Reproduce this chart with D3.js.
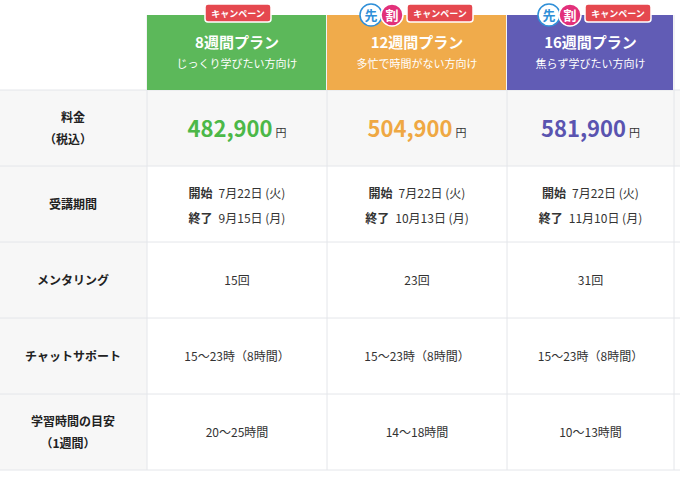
<!DOCTYPE html>
<html><head><meta charset="utf-8">
<script src="https://cdn.jsdelivr.net/npm/d3@7"></script>
<style>body{margin:0;background:#fff;font-family:"Noto Sans CJK JP",sans-serif}</style>
</head><body><svg id="chart" width="680" height="483"></svg>
<script>
// plan data
const plans = ["8週間プラン", "12週間プラン", "16週間プラン"];
const subtitles = ["じっくり学びたい方向け", "多忙で時間がない方向け", "焦らず学びたい方向け"];
const earlyBird = [false, true, true];
const prices = ["482,900", "504,900", "581,900"];
const starts = ["7月22日 (火)", "7月22日 (火)", "7月22日 (火)"];
const ends = ["9月15日 (月)", "10月13日 (月)", "11月10日 (月)"];
const mentoring = ["15回", "23回", "31回"];
const chat = ["15〜23時（8時間）", "15〜23時（8時間）", "15〜23時（8時間）"];
const study = ["20〜25時間", "14〜18時間", "10〜13時間"];
const rowLabels = [["料金", "（税込）"], ["受講期間"], ["メンタリング"], ["チャットサポート"], ["学習時間の目安", "（1週間）"]];
const colors = ["#5cb85a", "#f0ab4b", "#615cb5"];
const priceColors = ["#4cb848", "#efa843", "#5a54b0"];

const svg = d3.select("#chart");
const x = d3.scaleBand().domain(plans).range([147, 687]);
const cw = 180;
const widths = [180, 180, 167];
const headTop = 15, headBot = 90, rowH = 76;
const y = d3.scaleLinear().domain([0, rowLabels.length]).range([headBot, headBot + rowH * rowLabels.length]);

// backgrounds
svg.append("rect").attr("x", 0).attr("y", headBot).attr("width", 147).attr("height", rowH * 5).attr("fill", "#f7f7f7");
svg.append("rect").attr("x", 147).attr("y", y(0)).attr("width", 533).attr("height", rowH).attr("fill", "#f7f7f7");

// grid
d3.range(6).forEach(i => svg.append("line").attr("x1", 0).attr("x2", 680).attr("y1", y(i)).attr("y2", y(i)).attr("stroke", "#e4e6ea"));
[147, 327, 507, 674].forEach(v => svg.append("line").attr("x1", v).attr("x2", v).attr("y1", headTop).attr("y2", y(5)).attr("stroke", "#e4e6ea"));

// header
plans.forEach((p, i) => {
  const x0 = x(p), cx = x0 + widths[i] / 2;
  svg.append("rect").attr("x", x0).attr("y", headTop).attr("width", widths[i] - 1).attr("height", headBot - headTop).attr("fill", colors[i]);
  svg.append("text").attr("x", cx).attr("y", 48).attr("text-anchor", "middle").attr("fill", "#fff")
    .attr("font-size", 15).attr("font-weight", "bold").text(p);
  svg.append("text").attr("x", cx).attr("y", 68).attr("text-anchor", "middle").attr("fill", "#fff")
    .attr("font-size", 11).text(subtitles[i]);
  // campaign badge
  const bx = x0 + 58 + (earlyBird[i] ? 22 : 0) - (i === 2 ? 2 : 0);
  svg.append("rect").attr("x", bx).attr("y", 4).attr("width", 66).attr("height", 18).attr("rx", 3)
    .attr("fill", "#e5484f").attr("stroke", "#fff").attr("stroke-width", 1.5);
  svg.append("text").attr("x", bx + 33).attr("y", 17).attr("text-anchor", "middle").attr("fill", "#fff")
    .attr("font-size", 9).attr("font-weight", "bold").text("キャンペーン");
  if (earlyBird[i]) {
    [["先", "#fff", "#2f8fd8"], ["割", "#e2307a", "#fff"]].forEach((d, k) => {
      const ccx = x0 + 44 + k * 21 - (i === 2 ? 2 : 0);
      svg.append("circle").attr("cx", ccx).attr("cy", 15).attr("r", 11).attr("fill", d[1]).attr("stroke", k ? "#fff" : "#2f8fd8").attr("stroke-width", 1.5);
      svg.append("text").attr("x", ccx).attr("y", 20).attr("text-anchor", "middle").attr("fill", d[2])
        .attr("font-size", 13).attr("font-weight", "bold").text(d[0]);
    });
  }
});

// row labels
rowLabels.forEach((ls, r) => {
  const cy = y(r) + rowH / 2;
  ls.forEach((t, k) => svg.append("text").attr("x", t.startsWith("（") ? 68 : 73).attr("y", cy + 5 + (k - (ls.length - 1) / 2) * 22)
    .attr("text-anchor", "middle").attr("font-size", 12).attr("font-weight", "bold").attr("fill", "#222").text(t));
});

// cells
function cellText(r, i, t, dy) {
  return svg.append("text").attr("x", x(plans[i]) + widths[i] / 2).attr("y", y(r) + rowH / 2 + 5 + (dy || 0))
    .attr("text-anchor", "middle").attr("font-size", 12).attr("fill", "#333").text(t);
}
plans.forEach((p, i) => {
  const t = svg.append("text").attr("x", x(p) + widths[i] / 2).attr("y", y(0) + rowH / 2 + 9).attr("text-anchor", "middle");
  t.append("tspan").attr("font-size", 22).attr("font-weight", "bold").attr("fill", priceColors[i]).text(prices[i]);
  t.append("tspan").attr("font-size", 11).attr("fill", "#333").attr("dx", 3).text("円");
  const s = cellText(1, i, "", -11);
  s.append("tspan").attr("font-weight", "bold").text("開始");
  s.append("tspan").attr("dx", 6).text(starts[i]);
  const e = cellText(1, i, "", 14);
  e.append("tspan").attr("font-weight", "bold").text("終了");
  e.append("tspan").attr("dx", 6).text(ends[i]);
  cellText(2, i, mentoring[i]);
  cellText(3, i, chat[i]);
  cellText(4, i, study[i]);
});
</script></body></html>
